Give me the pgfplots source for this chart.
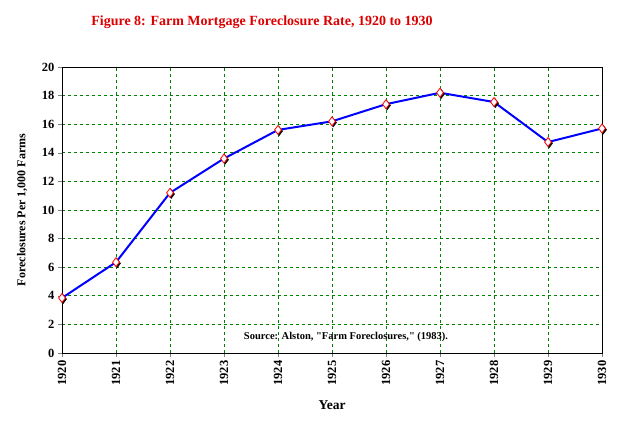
\documentclass[border=0pt]{standalone}
\usepackage{pgfplots}
\pgfplotsset{compat=1.18}
\usepackage{fontspec}
\setmainfont{Liberation Serif}
\newfontfamily\srcfont{Liberation Serif}
\definecolor{gridgreen}{RGB}{0,128,0}
\definecolor{titlered}{RGB}{220,0,0}
\begin{document}
\begin{tikzpicture}[x=1pt,y=1pt]
\useasboundingbox (0,0) rectangle (624,428);
\node[text=titlered,font=\fontsize{14}{16}\selectfont\bfseries] at (262,406) {Figure 8: Farm Mortgage Foreclosure Rate, 1920 to 1930};
\begin{axis}[
  at={(62pt,75pt)}, anchor=south west,
  width=540pt, height=286pt, scale only axis,
  xmin=1920, xmax=1930, ymin=0, ymax=20,
  xtick={1920,...,1930}, ytick={0,2,...,20},
  xticklabel style={rotate=90, anchor=east, font=\fontsize{12.5}{14}\selectfont\bfseries},
  yticklabel style={font=\fontsize{12.5}{14}\selectfont\bfseries},
  /pgf/number format/assume math mode=true,
  /pgf/number format/1000 sep={},
  tick align=outside, tick pos=left,
  major tick length=4pt,
  grid=major,
  major grid style={gridgreen, dash pattern=on 3pt off 3pt, line width=0.8pt},
  axis line style={black, line width=0.8pt},
  xlabel={Year}, ylabel={Foreclosures Per 1,000 Farms},
  xlabel style={at={(axis description cs:0.5,-0.182)}, anchor=center, font=\fontsize{13.5}{15}\selectfont\bfseries},
  ylabel style={at={(axis description cs:-0.074,0.5)}, anchor=center, font=\fontsize{12}{14}\selectfont\bfseries},
  clip=false,
]
\addplot[blue, line width=2pt, mark=none] coordinates {
(1920,3.85) (1921,6.35) (1922,11.2) (1923,13.6) (1924,15.6) (1925,16.2) (1926,17.4) (1927,18.2) (1928,17.55) (1929,14.75) (1930,15.7)};
\addplot[only marks, mark=diamond*, mark size=4.5pt, mark options={fill=black, draw=black, xshift=1.2pt, yshift=-1.2pt}] coordinates {
(1920,3.85) (1921,6.35) (1922,11.2) (1923,13.6) (1924,15.6) (1925,16.2) (1926,17.4) (1927,18.2) (1928,17.55) (1929,14.75) (1930,15.7)};
\addplot[only marks, mark=diamond*, mark size=4.5pt, mark options={fill=white, draw=red, line width=0.8pt}] coordinates {
(1920,3.85) (1921,6.35) (1922,11.2) (1923,13.6) (1924,15.6) (1925,16.2) (1926,17.4) (1927,18.2) (1928,17.55) (1929,14.75) (1930,15.7)};
\node[font=\srcfont\fontsize{10.5}{12}\selectfont\bfseries] at (axis cs:1925.26,1.1) {Source: Alston, "Farm Foreclosures," (1983).};
\end{axis}
\end{tikzpicture}
\end{document}
